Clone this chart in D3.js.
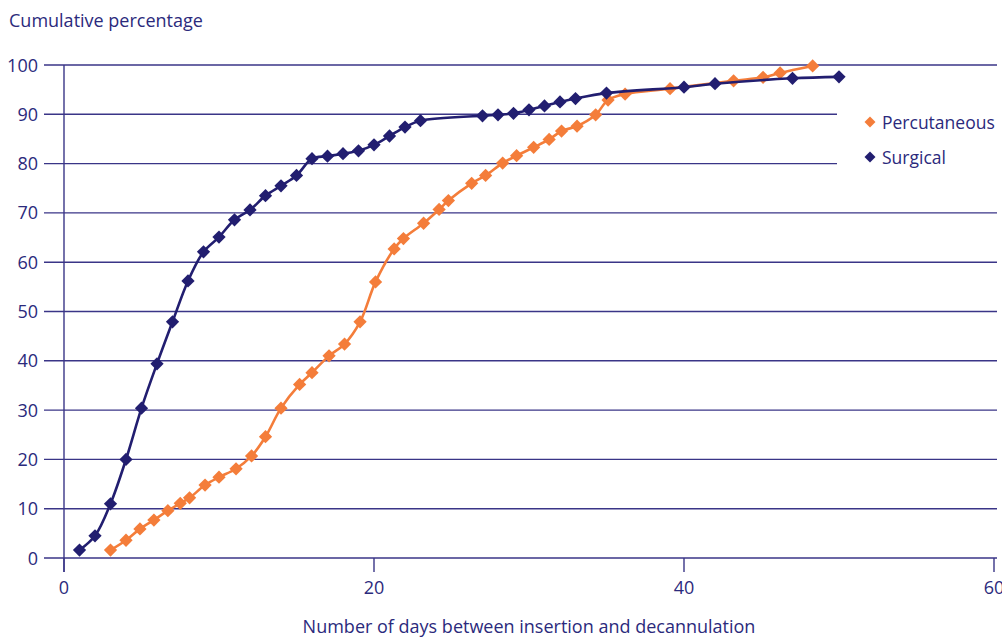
<!DOCTYPE html>
<html>
<head>
<meta charset="utf-8">
<script src="https://cdn.jsdelivr.net/npm/d3@7"></script>
<style>
  html, body { margin: 0; padding: 0; background: #fff; }
  svg text { font-family: "Open Sans", "Noto Sans", sans-serif; fill: #2b2a7c; }
</style>
</head>
<body>
<svg id="chart" width="1002" height="638"></svg>
<script>
// Days between insertion and decannulation vs cumulative percentage
const surgicalDays = [1, 2, 3, 4, 5, 6, 7, 8, 9, 10, 11, 12, 13, 14, 15, 16, 17, 18, 19, 20, 21, 22, 23, 27, 28, 29, 30, 31, 32, 33, 35, 40, 42, 47, 50];
const surgicalPct  = [1.6, 4.5, 11, 20, 30.4, 39.4, 47.9, 56.2, 62.1, 65.1, 68.6, 70.6, 73.5, 75.5, 77.6, 81, 81.5, 82, 82.6, 83.8, 85.6, 87.4, 88.7, 89.7, 89.9, 90.2, 90.9, 91.7, 92.5, 93.2, 94.3, 95.5, 96.2, 97.3, 97.6];

const percDays = [3, 4, 4.9, 5.8, 6.7, 7.5, 8.1, 9.1, 10, 11.1, 12.1, 13, 14, 15.2, 16, 17.1, 18.1, 19.1, 20.1, 21.3, 21.9, 23.2, 24.2, 24.8, 26.3, 27.2, 28.3, 29.2, 30.3, 31.3, 32.1, 33.1, 34.3, 35.1, 36.2, 39.1, 43.2, 45.1, 46.2, 48.3];
const percPct  = [1.6, 3.6, 5.9, 7.7, 9.6, 11.1, 12.2, 14.8, 16.4, 18.1, 20.7, 24.6, 30.4, 35.2, 37.6, 41, 43.4, 47.9, 56, 62.7, 64.8, 67.9, 70.7, 72.5, 76, 77.6, 80.1, 81.6, 83.3, 84.9, 86.6, 87.6, 89.9, 92.9, 94.1, 95.2, 96.8, 97.5, 98.4, 99.8];

const xTicks = [0, 20, 40, 60];
const yTicks = [0, 10, 20, 30, 40, 50, 60, 70, 80, 90, 100];

const seriesNames  = ["Percutaneous", "Surgical"];
const seriesColors = ["#f47d3a", "#221e70"];

const svg = d3.select("#chart");
const x = d3.scaleLinear().domain([0, 60]).range([64, 994]);
const y = d3.scaleLinear().domain([0, 100]).range([558, 65]);

const gridColor = "#3a3587";

// horizontal gridlines; the 80 and 90 lines stop short of the legend
svg.append("g").selectAll("line").data(yTicks).join("line")
  .attr("x1", 44)
  .attr("x2", d => (d === 80 || d === 90) ? 837 : 997)
  .attr("y1", d => y(d)).attr("y2", d => y(d))
  .attr("stroke", gridColor).attr("stroke-width", 1.4);

// y axis line
svg.append("line")
  .attr("x1", x(0)).attr("x2", x(0))
  .attr("y1", y(100)).attr("y2", 572)
  .attr("stroke", gridColor).attr("stroke-width", 1.4);

// x tick marks
svg.append("g").selectAll("line").data(xTicks).join("line")
  .attr("x1", d => x(d)).attr("x2", d => x(d))
  .attr("y1", y(0)).attr("y2", 572)
  .attr("stroke", gridColor).attr("stroke-width", 1.4);

// y tick labels
svg.append("g").selectAll("text").data(yTicks).join("text")
  .attr("x", 38).attr("y", d => y(d) + 6.5)
  .attr("text-anchor", "end").attr("font-size", 18)
  .text(d => d);

// x tick labels
svg.append("g").selectAll("text").data(xTicks).join("text")
  .attr("x", d => x(d)).attr("y", 594)
  .attr("text-anchor", "middle").attr("font-size", 18)
  .text(d => d);

// axis titles
svg.append("text").attr("x", 9).attr("y", 27).attr("font-size", 18)
  .text("Cumulative percentage");
svg.append("text").attr("x", 529).attr("y", 633).attr("text-anchor", "middle").attr("font-size", 18)
  .text("Number of days between insertion and decannulation");

const line = d3.line()
  .x(d => x(d[0])).y(d => y(d[1]))
  .curve(d3.curveCatmullRom.alpha(0.5));

const diamond = d3.symbol().type(d3.symbolSquare).size(88);

function drawSeries(days, pct, color) {
  const pts = days.map((d, i) => [d, pct[i]]);
  const g = svg.append("g");
  g.append("path").datum(pts)
    .attr("d", line)
    .attr("fill", "none").attr("stroke", color).attr("stroke-width", 2.6);
  g.selectAll("path.pt").data(pts).join("path")
    .attr("class", "pt")
    .attr("d", diamond)
    .attr("transform", d => `translate(${x(d[0])},${y(d[1])}) rotate(45)`)
    .attr("fill", color);
}

drawSeries(percDays, percPct, seriesColors[0]);
drawSeries(surgicalDays, surgicalPct, seriesColors[1]);

// legend
const legend = svg.append("g").selectAll("g").data(seriesNames).join("g")
  .attr("transform", (d, i) => `translate(870,${122 + i * 35})`);
legend.append("path")
  .attr("d", d3.symbol().type(d3.symbolSquare).size(60))
  .attr("transform", "rotate(45)")
  .attr("fill", (d, i) => seriesColors[i]);
legend.append("text")
  .attr("x", 12).attr("y", 6.5).attr("font-size", 17.5)
  .text(d => d);
</script>
</body>
</html>
